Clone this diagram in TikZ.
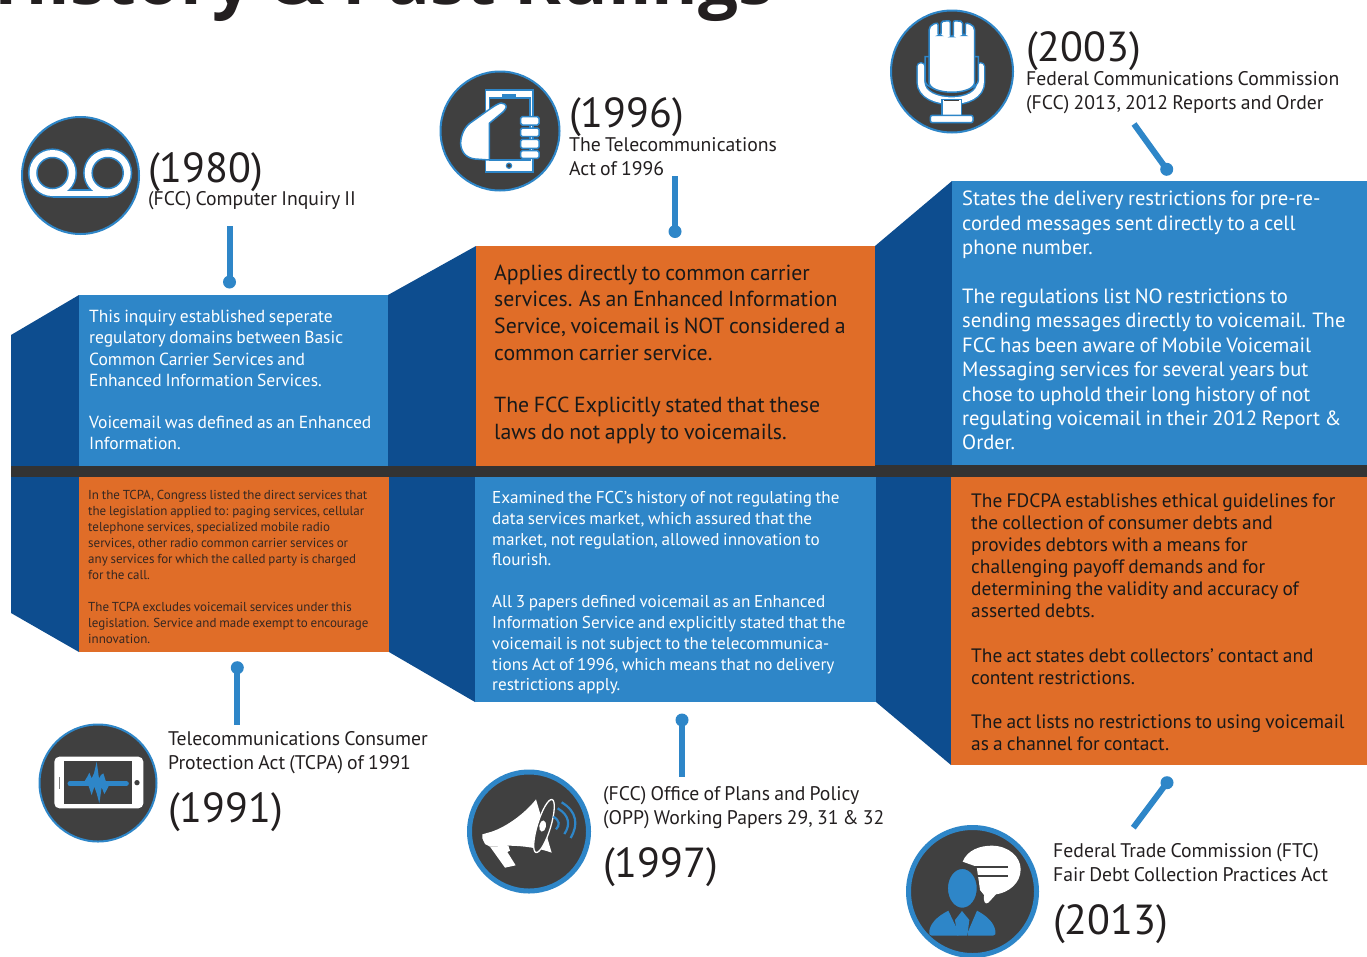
\documentclass[tikz,border=0pt]{standalone}
\usepackage{fontspec}
\setmainfont{PT Sans}[WordSpace=0.8]
\newfontfamily\titlefont{Open Sans}
\definecolor{bl}{HTML}{2E86C8}
\definecolor{dbl}{HTML}{0D4D8F}
\definecolor{org}{HTML}{E06D28}
\definecolor{bar}{HTML}{333333}
\definecolor{disc}{HTML}{404040}
\definecolor{ink}{HTML}{231F20}
\newcommand{\fsz}[2]{\fontsize{#1}{#2}\selectfont}
\tikzset{
  panel/.style={fill=#1},
  side/.style={fill=dbl},
  icondisc/.style={circle,draw=bl,fill=disc,line width=2pt,inner sep=0pt,minimum size=#1},
  pinhead/.style={circle,fill=bl,inner sep=0pt,minimum size=13pt},
  stem/.style={draw=bl,line width=6pt},
  block/.style={anchor=north west,inner sep=0pt,align=left},
  year/.style={anchor=base west,inner sep=0pt,text=ink,font=\fsz{42}{42}},
  sub/.style={block,text=ink,font=\fsz{19.7}{24}},
  iconz/.style={x=.33333pt,y=-.33333pt},
}
\begin{document}
\begin{tikzpicture}[x=1pt,y=-1pt]
\useasboundingbox (0,0) rectangle (1367,956);
\clip (0,0) rectangle (1367,956);
\fill[white] (0,0) rectangle (1367,956);
% title
\node[anchor=base west,inner sep=0pt,text=ink,font=\titlefont\fsz{71}{71}\bfseries] (title) at (-6,4) {History \& Past Rulings};
% side panels
\fill[side] (11,335) -- (79,295) -- (79,466) -- (11,466) -- cycle;
\fill[side] (11,477) -- (79,477) -- (79,652) -- (11,613) -- cycle;
\fill[side] (388,295) -- (476,246) -- (476,466) -- (388,466) -- cycle;
\fill[side] (389,477) -- (475,477) -- (475,702) -- (389,652) -- cycle;
\fill[side] (875,246) -- (952,181) -- (952,466) -- (875,466) -- cycle;
\fill[side] (876,477) -- (951,477) -- (951,765) -- (876,702) -- cycle;
% main panels
\fill[panel=bl] (79,295) rectangle (388,466);
\fill[panel=org] (79,477) rectangle (389,652);
\fill[panel=org] (476,246) rectangle (875,466);
\fill[panel=bl] (475,477) rectangle (876,702);
\fill[panel=bl] (952,181) rectangle (1367,465);
\fill[panel=org] (951,477) rectangle (1367,765);
\fill[bar] (11,466) rectangle (1367,477);
\fill[bar] (875,465) rectangle (1367,477);
% panel texts
\node[block,text=white,font=\fsz{17.5}{21.4}] (t1) at (89,310) {This inquiry established seperate\\regulatory domains between Basic\\Common Carrier Services and\\Enhanced Information Services.\\[20pt]Voicemail was defined as an Enhanced\\Information.};
\node[block,text=black!90,font=\fsz{21.8}{26.6}] (t2) at (494,264.5) {Applies directly to common carrier\\services. As an Enhanced Information\\Service, voicemail is NOT considered a\\common carrier service.\\[26pt]The FCC Explicitly stated that these\\laws do not apply to voicemails.};
\node[block,text=white,font=\fsz{20.6}{24.4}] (t3) at (962,191) {States the delivery restrictions for pre-re-\\corded messages sent directly to a cell\\phone number.\\[24.4pt]The regulations list NO restrictions to\\sending messages directly to voicemail. The\\FCC has been aware of Mobile Voicemail\\Messaging services for several years but\\chose to uphold their long history of not\\regulating voicemail in their 2012 Report \&\\Order.};
\node[block,text=ink!90!org,font=\fsz{13}{16}] (t4) at (88,490.5) {In the TCPA, Congress listed the direct services that\\the legislation applied to: paging services, cellular\\telephone services, specialized mobile radio\\services, other radio common carrier services or\\any services for which the called party is charged\\for the call.\\[15.5pt]The TCPA excludes voicemail services under this\\legislation. Service and made exempt to encourage\\innovation.};
\node[block,text=white,font=\fsz{17.15}{20.8}] (t5) at (492,491) {Examined the FCC’s history of not regulating the\\data services market, which assured that the\\market, not regulation, allowed innovation to\\flourish.\\[21pt]All 3 papers defined voicemail as an Enhanced\\Information Service and explicitly stated that the\\voicemail is not subject to the telecommunica-\\tions Act of 1996, which means that no delivery\\restrictions apply.};
\node[block,text=black!90,font=\fsz{19.4}{22}] (t6) at (971,493) {The FDCPA establishes ethical guidelines for\\the collection of consumer debts and\\provides debtors with a means for\\challenging payoff demands and for\\determining the validity and accuracy of\\asserted debts.\\[23pt]The act states debt collectors’ contact and\\content restrictions.\\[22pt]The act lists no restrictions to using voicemail\\as a channel for contact.};
% years and captions
\node[year] (y1980) at (148,182) {(1980)};
\node[sub] (c1980) at (148,191) {(FCC) Computer Inquiry II};
\node[year] (y1996) at (569,127) {(1996)};
\node[sub] (c1996) at (569,137) {The Telecommunications\\Act of 1996};
\node[year] (y2003) at (1026,61) {(2003)};
\node[sub] (c2003) at (1026,71) {Federal Communications Commission\\(FCC) 2013, 2012 Reports and Order};
\node[sub] (c1991) at (168,731) {Telecommunications Consumer\\Protection Act (TCPA) of 1991};
\node[year] (y1991) at (168,822) {(1991)};
\node[sub] (c1997) at (603,786) {(FCC) Office of Plans and Policy\\(OPP) Working Papers 29, 31 \& 32};
\node[year] (y1997) at (603,877) {(1997)};
\node[sub] (c2013) at (1053,843) {Federal Trade Commission (FTC)\\Fair Debt Collection Practices Act};
\node[year] (y2013) at (1053,934) {(2013)};
% connectors
\node[pinhead] (p1) at (229.5,282) {};
\coordinate (s1) at (229.5,226);
\draw[stem] (s1) -- (p1.center);
\node[pinhead] (p2) at (675,231.5) {};
\coordinate (s2) at (675,176);
\draw[stem] (s2) -- (p2.center);
\node[pinhead] (p3) at (1166.7,169.3) {};
\coordinate (s3) at (1134,124);
\draw[stem] (s3) -- (p3.center);
\node[pinhead] (p4) at (237.3,667.7) {};
\coordinate (s4) at (237.3,724.7);
\draw[stem] (s4) -- (p4.center);
\node[pinhead] (p5) at (682,720) {};
\coordinate (s5) at (682,776.7);
\draw[stem] (s5) -- (p5.center);
\node[pinhead] (p6) at (1167,782.7) {};
\coordinate (s6) at (1133.3,827.7);
\draw[stem] (s6) -- (p6.center);
% discs
\node[icondisc=117pt] (d1980) at (80.5,175.5) {};
\node[icondisc=119pt] (d1996) at (500,131) {};
\node[icondisc=122pt] (d2003) at (952,71.5) {};
\node[icondisc=117pt] (d1991) at (98,783) {};
\node[icondisc=119pt,line width=5pt] (d1997) at (529,831.5) {};
\node[icondisc=128pt,line width=5pt] (d2013) at (972.5,891.5) {};
% voicemail icon
\fill[bl] (52.5,173) circle[radius=24.6];
\fill[bl] (107.7,173) circle[radius=24.6];
\fill[bl] (52.5,188.5) rectangle (107.7,197.6);
\fill[white] (52.5,173) circle[radius=23];
\fill[white] (107.7,173) circle[radius=23];
\fill[white] (52.5,190.5) rectangle (107.7,196);
\filldraw[fill=disc,draw=bl,line width=1.5pt] (52.5,173) circle[radius=15.5];
\filldraw[fill=disc,draw=bl,line width=1.5pt] (107.7,173) circle[radius=15.5];
% phone in hand icon
\filldraw[fill=white,draw=bl,line width=1.5pt] (485.5,90) rectangle (533,172);
\filldraw[fill=disc,draw=bl,line width=1.5pt] (489.3,98) rectangle (530,160);
\fill[bl] (502,94) rectangle (516,97);
\filldraw[fill=disc,draw=bl,line width=1.2pt] (509,165.7) circle[radius=2.6];
\filldraw[fill=white,draw=bl,line width=1.5pt] (504.6,104) .. controls (500,101) and (497,104) .. (472,121.7) .. controls (465,126) and (461,134) .. (460.6,143.3) .. controls (461,152) and (466,158) .. (475,159) -- (489.3,160) -- (489.3,123.3) -- (503,112) .. controls (507,108) and (507,106) .. (504.6,104) -- cycle;
\foreach \a/\b in {116.7/125,128/136.7,139.3/148.3,150.7/158.3}
  \filldraw[fill=white,draw=bl,line width=1.5pt,rounded corners=1.5pt] (520.7,\a) rectangle (539,\b);
% microphone icon
\begin{scope}[iconz,shift={(880pt,0pt)}]
\draw[bl,line width=9.5pt,line cap=round] (123,200) -- (123,245) .. controls (123,285) and (170,302) .. (215,302) .. controls (260,302) and (302,285) .. (302,245) -- (302,200);
\draw[white,line width=6.5pt,line cap=round] (123,200) -- (123,245) .. controls (123,285) and (170,302) .. (215,302) .. controls (260,302) and (302,285) .. (302,245) -- (302,200);
\filldraw[fill=disc,draw=bl,line width=1.5pt] (135,240) .. controls (135,285) and (295,285) .. (295,240) -- (295,170) -- (135,170) -- cycle;
\filldraw[fill=white,draw=bl,line width=1.5pt,rounded corners=2pt] (147,85) -- (147,240) .. controls (147,287) and (284,287) .. (284,240) -- (284,85) -- (276,74) -- (256,68) -- (256,106) -- (248,106) -- (248,64) -- (220,62) -- (220,110) -- (211,110) -- (211,62) -- (183,64) -- (183,106) -- (174,106) -- (174,68) -- (155,74) -- cycle;
\filldraw[fill=white,draw=bl,line width=1.5pt] (186,298) rectangle (244,350);
\fill[disc] (192,299) rectangle (238,304);
\filldraw[fill=white,draw=bl,line width=1.5pt,rounded corners=2pt] (151,346) rectangle (279,368);
\end{scope}
% tablet icon
\begin{scope}[iconz,shift={(0pt,-650pt)}]
\fill[white,rounded corners=5pt] (163,320) rectangle (430,475);
\fill[disc] (191,333) rectangle (397,463);
\fill[gray] (177,380) rectangle (180,418);
\fill[disc] (411,398) circle[radius=8];
\draw[bl,line width=5pt,line cap=round] (210,401) -- (379,401);
\fill[bl] (250,400) -- (262,380) -- (268,368) -- (275,385) -- (282,370) -- (290,335) -- (297,385) -- (303,375) -- (310,370) -- (318,395) -- (330,400) -- (320,420) -- (313,432) -- (305,412) -- (298,460) -- (290,430) -- (283,410) -- (275,435) -- (265,405) -- cycle;
\end{scope}
% megaphone icon
\begin{scope}[iconz,shift={(450pt,-700pt)}]
\fill[white] (97,403) -- (125,395) .. controls (170,380) and (225,340) .. (258,298) -- (305,458) .. controls (270,445) and (220,437) .. (175,437) -- (120,440) -- (105,432) -- (97,415) -- cycle;
\fill[white] (120,440) -- (165,503) -- (197,496) -- (172,456) -- (180,452) -- (175,437) -- cycle;
\filldraw[fill=disc,draw=white,line width=1.3pt,rotate around={-17:(282,378)}] (282,378) ellipse[x radius=20, y radius=83];
\fill[white,rotate around={-10:(278,378)}] (278,378) ellipse[x radius=10, y radius=17];
\draw[bl,line width=2.2pt] (310,350) .. controls (330,362) and (330,375) .. (318,388);
\draw[bl,line width=2.2pt] (323,325) .. controls (358,345) and (362,375) .. (343,402);
\draw[bl,line width=2.2pt] (335,307) .. controls (382,335) and (385,375) .. (362,414);
\end{scope}
% person icon
\begin{scope}[iconz,shift={(880pt,-760pt)}]
\fill[white] (248,305) .. controls (262,270) and (300,257) .. (335,257) .. controls (385,257) and (422,290) .. (422,328) .. controls (422,370) and (385,398) .. (348,403) -- (325,428) .. controls (315,435) and (310,425) .. (312,405) -- (300,390) -- (290,320) -- cycle;
\draw[disc,line width=2.7pt] (285,321) -- (383,321) (285,348) -- (383,348);
\filldraw[fill=bl,draw=disc,line width=2.5pt] (247,385) ellipse[x radius=47, y radius=62];
\fill[bl] (155,527) .. controls (147,527) and (146,520) .. (148,512) .. controls (152,490) and (170,470) .. (205,452) -- (235,515) -- (235,527) -- cycle;
\fill[bl] (246,453) -- (268,480) -- (262,527) -- (232,527) -- (225,480) -- cycle;
\fill[bl] (339,527) .. controls (347,527) and (348,520) .. (346,512) .. controls (342,490) and (325,470) .. (291,452) -- (264,515) -- (264,527) -- cycle;
\end{scope}
\end{tikzpicture}
\end{document}
